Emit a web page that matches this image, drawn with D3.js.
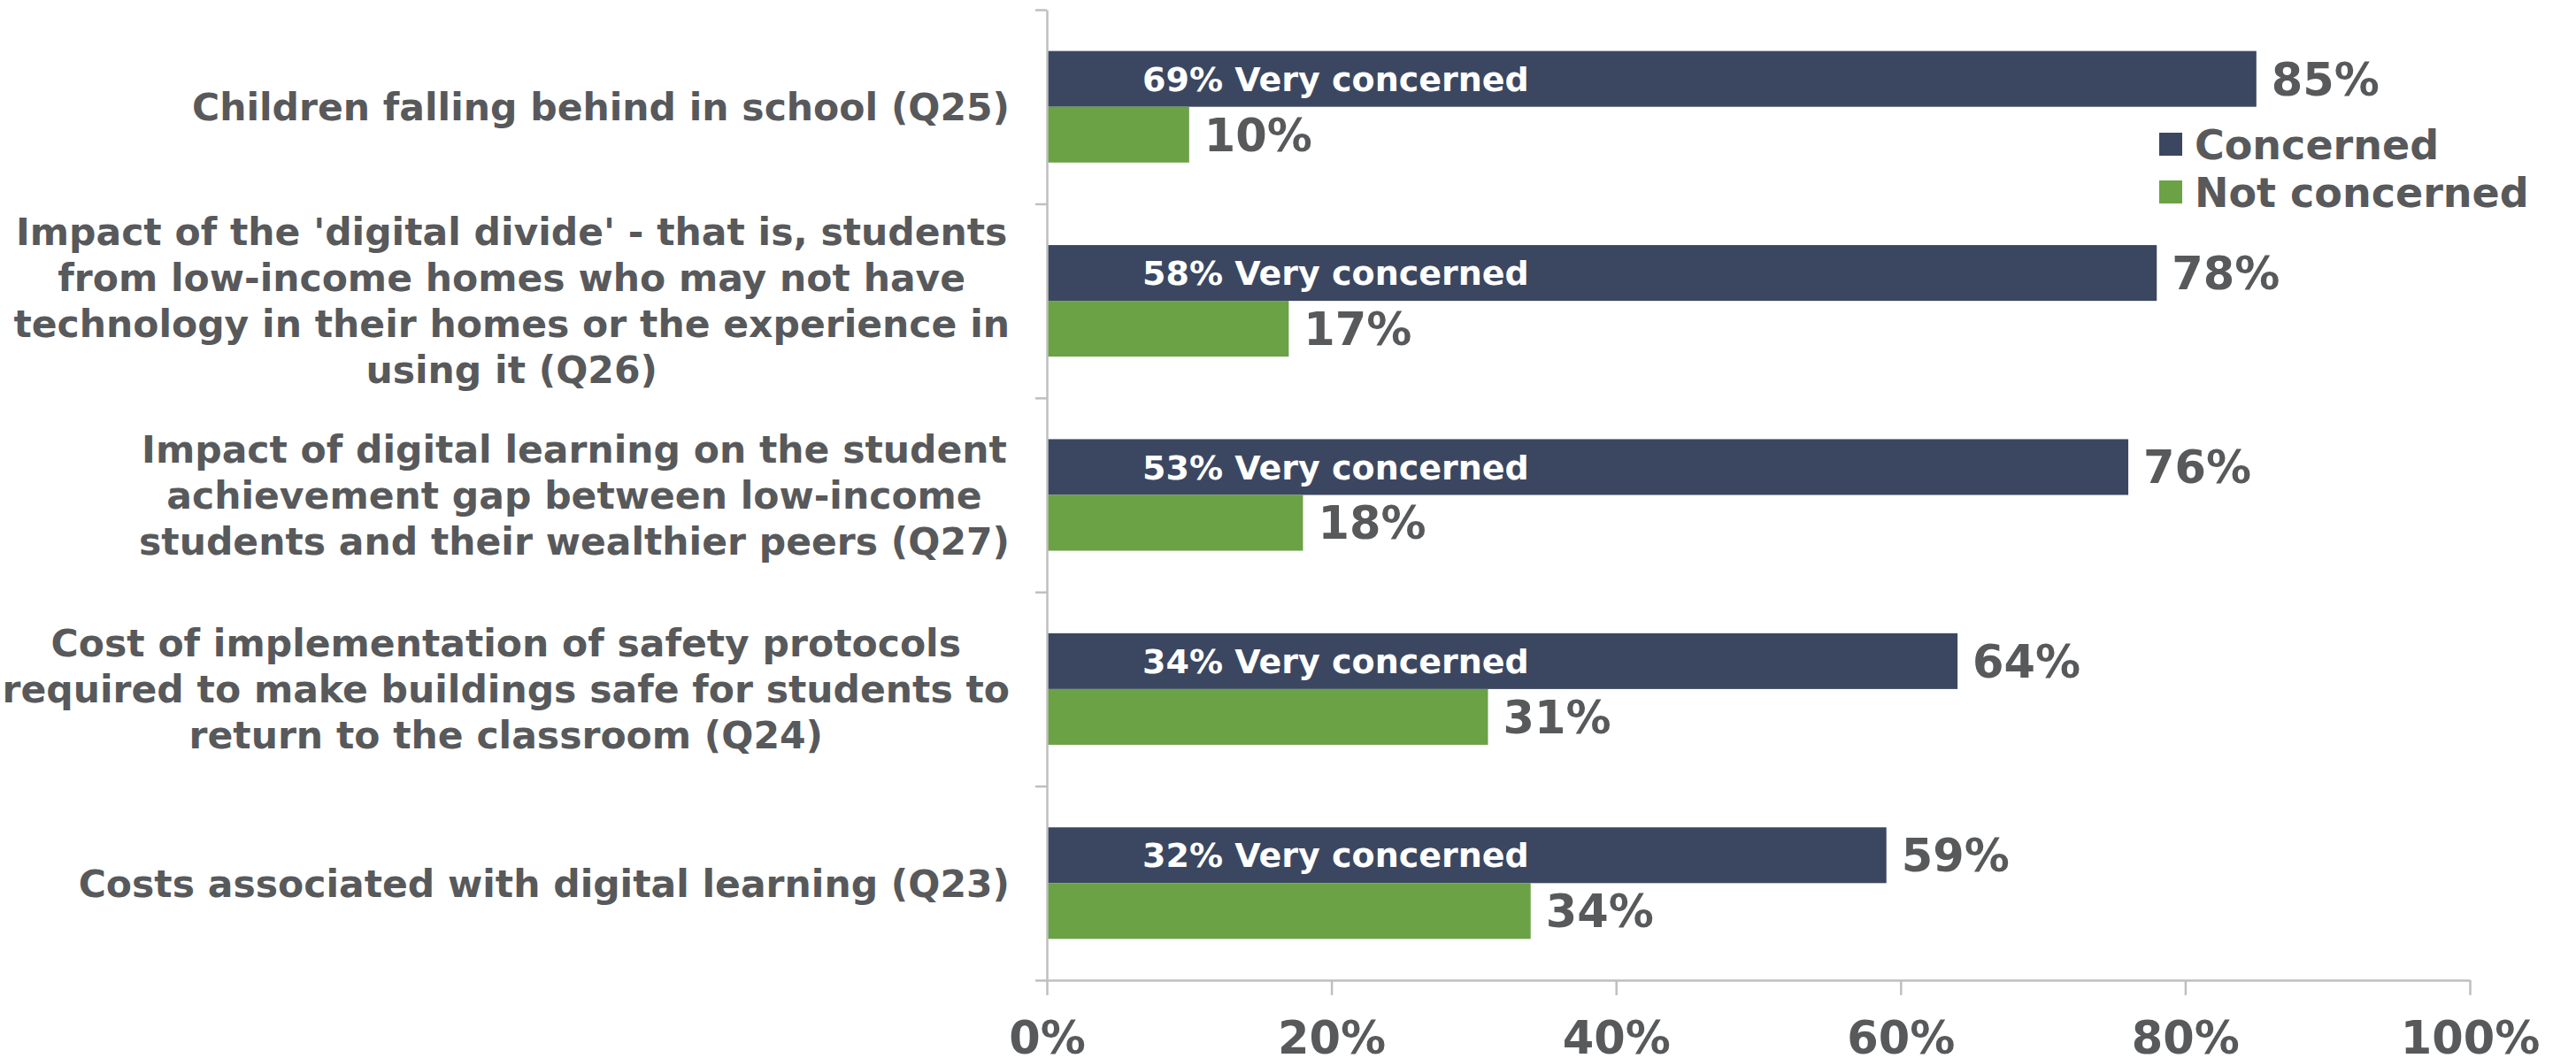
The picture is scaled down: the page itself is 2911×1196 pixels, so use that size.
<!DOCTYPE html>
<html>
<head>
<meta charset="utf-8">
<script src="https://cdn.jsdelivr.net/npm/d3@7"></script>
<style>
  html, body { margin: 0; padding: 0; background: #ffffff; }
  svg { display: block; }
  text { font-family: "DejaVu Sans", Verdana, sans-serif; font-weight: bold; }
</style>
</head>
<body>
<script>
// ---- Data ----
const categories = ["Q25", "Q26", "Q27", "Q24", "Q23"];
const categoryLabels = [
  ["Children falling behind in school (Q25)"],
  ["Impact of the 'digital divide' - that is, students",
   "from low-income homes who may not have",
   "technology in their homes or the experience in",
   "using it (Q26)"],
  ["Impact of digital learning on the student",
   "achievement gap between low-income",
   "students and their wealthier peers (Q27)"],
  ["Cost of implementation of safety protocols",
   "required to make buildings safe for students to",
   "return to the classroom (Q24)"],
  ["Costs associated with digital learning (Q23)"]
];
const seriesNames = ["Concerned", "Not concerned"];
const concerned = [85, 78, 76, 64, 59];
const notConcerned = [10, 17, 18, 31, 34];
const veryConcerned = [69, 58, 53, 34, 32];
const xTicks = [0, 20, 40, 60, 80, 100];
const colors = ["#3b4761", "#6aa245"];

// ---- Layout ----
const W = 2911, H = 1196;
const x0 = 1183, x1 = 2791, yTop = 11, yBot = 1108;
const textGray = "#58595b";
const axisGray = "#bfbfbf";

const svg = d3.select("body").append("svg").attr("width", W).attr("height", H);

const x = d3.scaleLinear().domain([0, 100]).range([x0, x1]);
const y = d3.scaleBand().domain(categories).range([yTop, yBot]).padding(0);
const ys = d3.scaleBand().domain(seriesNames).range([0, y.bandwidth()]).paddingInner(0).paddingOuter(0.74);
const yIdx = d3.scaleLinear().domain([0, categories.length]).range([yTop, yBot]);

const rows = categories.map((c, i) => ({
  cat: c, lines: categoryLabels[i],
  vals: [concerned[i], notConcerned[i]], very: veryConcerned[i]
}));

// Bars
const g = svg.append("g");
rows.forEach(r => {
  const rg = g.append("g").attr("transform", `translate(0,${y(r.cat)})`);
  seriesNames.forEach((s, j) => {
    rg.append("rect")
      .attr("x", x(0))
      .attr("y", ys(s))
      .attr("width", x(r.vals[j]) - x(0))
      .attr("height", ys.bandwidth())
      .attr("fill", colors[j]);
    rg.append("text")
      .attr("x", x(r.vals[j]) + 17)
      .attr("y", ys(s) + ys.bandwidth() / 2)
      .attr("dy", "0.36em")
      .attr("font-size", 51)
      .attr("fill", textGray)
      .text(r.vals[j] + "%");
  });
  rg.append("text")
    .attr("x", x(0) + 108)
    .attr("y", ys("Concerned") + ys.bandwidth() / 2)
    .attr("dy", "0.36em")
    .attr("font-size", 38)
    .attr("fill", "#ffffff")
    .text(r.very + "% Very concerned");
});

// Y axis (line + ticks at band boundaries)
const yAxisG = svg.append("g").attr("transform", `translate(${x0},0)`)
  .call(d3.axisLeft(yIdx).tickValues(d3.range(categories.length + 1)).tickFormat("").tickSize(13).tickSizeOuter(0));
yAxisG.selectAll("path, line").attr("stroke", axisGray).attr("stroke-width", 2.5);

// X axis
const xAxisG = svg.append("g").attr("transform", `translate(0,${yBot})`)
  .call(d3.axisBottom(x).tickValues(xTicks).tickFormat(d => d + "%").tickSize(17).tickSizeOuter(0));
xAxisG.selectAll("path, line").attr("stroke", axisGray).attr("stroke-width", 2.5);
xAxisG.selectAll("text")
  .attr("y", 83).attr("dy", 0)
  .attr("font-size", 51)
  .attr("font-family", "'DejaVu Sans', Verdana, sans-serif")
  .attr("font-weight", "bold")
  .attr("fill", textGray);

// Category labels: block right-aligned to 1141, lines centered within block
const labelRight = 1141, lineH = 52;
rows.forEach(r => {
  const tg = svg.append("g");
  const texts = r.lines.map(l => tg.append("text")
    .attr("font-size", 42.5).attr("fill", textGray)
    .attr("text-anchor", "middle").text(l));
  const maxW = d3.max(texts, t => t.node().getComputedTextLength());
  const cx = labelRight - maxW / 2;
  const cy = y(r.cat) + y.bandwidth() / 2;
  const n = r.lines.length;
  texts.forEach((t, k) => {
    t.attr("x", cx)
     .attr("y", cy + (k - (n - 1) / 2) * lineH)
     .attr("dy", "0.36em");
  });
});

// Legend
const legend = svg.append("g");
seriesNames.forEach((s, j) => {
  const ly = 163 + j * 54;
  legend.append("rect").attr("x", 2440).attr("y", ly - 13).attr("width", 26).attr("height", 26).attr("fill", colors[j]);
  legend.append("text").attr("x", 2480).attr("y", ly).attr("dy", "0.36em")
    .attr("font-size", 46).attr("fill", textGray).text(s);
});
</script>
</body>
</html>
